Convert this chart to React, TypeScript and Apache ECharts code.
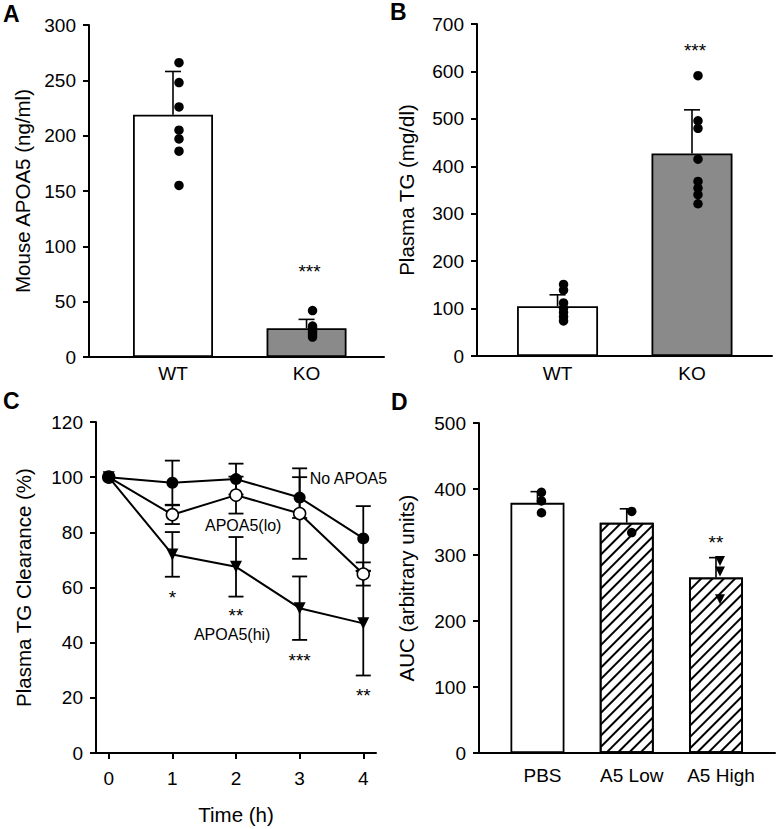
import React, { useEffect, useRef } from "react";
import * as echarts from "echarts";

const FONT = "Liberation Sans, Arial, Helvetica, sans-serif";

// Panel A: Mouse APOA5 (ng/ml)
const abCategories = ["WT", "KO"];
const aMeans = [219, 26];
const aErr = [39, 8];
const aWTDots = [266, 248, 226, 205, 197, 186, 155];
const aKODots = [42, 28, 26, 24, 22, 20, 18];

// Panel B: Plasma TG (mg/dl)
const bMeans = [105, 427];
const bErr = [24, 92];
const bWTDots = [151, 139, 112, 101, 92, 83, 74];
const bKODots = [591, 496, 480, 415, 368, 354, 340, 321];

// Panel C: Plasma TG clearance (%)
const hours = [0, 1, 2, 3, 4];
const noApoa5 = [100, 98, 99.3, 92.6, 77.8];
const noApoa5Err = [0, 8, 5.6, 7.4, 11.7];
const apoa5Lo = [100, 86.4, 93.5, 86.8, 64.9];
const apoa5LoErr = [0, 3.4, 6.7, 16.4, 4.2];
const apoa5Hi = [100, 72, 67.5, 52.5, 47];
const apoa5HiErr = [0, 8.1, 10.8, 11.5, 18.9];
const cSignif = ["*", "**", "***", "**"];
const cSignifY = [56.5, 50, 33.4, 20.7];

// Panel D: AUC
const dCategories = ["PBS", "A5 Low", "A5 High"];
const dMeans = [379, 349, 266];
const dErr = [17, 21, 30];
const dPBSDots = [395, 382, 364];
const dLowDots = [366, 334];
const dHighPoints = [291, 275, 233];

const BLACK = "#000";

function yAxis(gridIndex: number, max: number, interval: number, name: string, nameGap: number) {
  return {
    type: "value",
    gridIndex,
    min: 0,
    max,
    interval,
    name,
    nameLocation: "middle",
    nameGap,
    nameRotate: 90,
    nameTextStyle: { fontSize: 20.5, color: BLACK, fontFamily: FONT },
    axisLine: { show: true, onZero: false, lineStyle: { color: BLACK, width: 2 } },
    axisTick: { show: true, length: 6, lineStyle: { color: BLACK, width: 2 } },
    axisLabel: { fontSize: 19, color: BLACK, margin: 13, fontFamily: FONT },
    splitLine: { show: false },
  };
}

function xCatAxis(gridIndex: number, min: number, max: number, labels: string[], margin: number, padLeft = 0) {
  return {
    type: "value",
    gridIndex,
    min,
    max,
    axisLine: { show: true, onZero: false, lineStyle: { color: BLACK, width: 2 } },
    axisTick: { show: false },
    axisLabel: {
      fontSize: 19,
      color: BLACK,
      margin,
      fontFamily: FONT,
      padding: [0, 0, 0, padLeft],
      customValues: labels.map((_, i) => i + 1),
      formatter: (v: number) => labels[Math.round(v) - 1] ?? "",
    },
    splitLine: { show: false },
  };
}

function errUp(cap: number) {
  return (params: any, api: any) => {
    const x = api.value(0);
    const m = api.value(1);
    const e = api.value(2);
    const p0 = api.coord([x, m]);
    const p1 = api.coord([x, m + e]);
    const st = { stroke: BLACK, lineWidth: 1.6 };
    return {
      type: "group",
      children: [
        { type: "line", shape: { x1: p0[0], y1: p0[1], x2: p1[0], y2: p1[1] }, style: st },
        { type: "line", shape: { x1: p1[0] - cap, y1: p1[1], x2: p1[0] + cap, y2: p1[1] }, style: st },
      ],
    };
  };
}

function errBoth(cap: number) {
  return (params: any, api: any) => {
    const x = api.value(0);
    const m = api.value(1);
    const e = api.value(2);
    if (!e) return { type: "group", children: [] };
    const pt = api.coord([x, m + e]);
    const pb = api.coord([x, m - e]);
    const st = { stroke: BLACK, lineWidth: 1.8 };
    return {
      type: "group",
      children: [
        { type: "line", shape: { x1: pt[0], y1: pt[1], x2: pb[0], y2: pb[1] }, style: st },
        { type: "line", shape: { x1: pt[0] - cap, y1: pt[1], x2: pt[0] + cap, y2: pt[1] }, style: st },
        { type: "line", shape: { x1: pb[0] - cap, y1: pb[1], x2: pb[0] + cap, y2: pb[1] }, style: st },
      ],
    };
  };
}

function dots(xi: number, pos: number, values: number[], symbol = "circle", size = 9.5, offset = 6, rotate = 0) {
  return {
    type: "scatter",
    xAxisIndex: xi,
    yAxisIndex: xi,
    symbol,
    symbolSize: size,
    symbolRotate: rotate,
    symbolOffset: [offset, 0],
    itemStyle: { color: BLACK, opacity: 1 },
    data: values.map((v) => [pos, v]),
    z: 4,
    silent: true,
  };
}

function annot(xi: number, data: any[], fontSize: number, extra: any = {}) {
  return {
    type: "scatter",
    xAxisIndex: xi,
    yAxisIndex: xi,
    symbolSize: 0,
    silent: true,
    data,
    itemStyle: { opacity: 1, color: BLACK },
    label: {
      show: true,
      position: "inside",
      formatter: (p: any) => p.value[2],
      color: BLACK,
      opacity: 1,
      fontSize,
      fontFamily: FONT,
      ...extra,
    },
    z: 6,
  };
}

function lineSeries(values: number[], symbol: string, fill: string, rotate = 0) {
  return {
    type: "line",
    xAxisIndex: 2,
    yAxisIndex: 2,
    data: values.map((v, i) => [hours[i], v]),
    symbol,
    symbolSize: 12,
    symbolRotate: rotate,
    showSymbol: true,
    lineStyle: { color: BLACK, width: 2 },
    itemStyle: { color: fill, borderColor: BLACK, borderWidth: fill === BLACK ? 0 : 1.5, opacity: 1 },
    z: 4,
    silent: true,
  };
}

const hatch = {
  symbol: "rect",
  symbolSize: 1,
  color: BLACK,
  dashArrayX: [1, 0],
  dashArrayY: [1.4, 5.2],
  rotation: -Math.PI / 4,
};

const letterStyle = (text: string) => ({ text, fontSize: 23, fontWeight: "bold", fontFamily: FONT, fill: BLACK });

export default function App() {
  const ref = useRef<HTMLDivElement>(null);
  useEffect(() => {
    if (!ref.current) return;
    const chart = echarts.init(ref.current, null, { renderer: "svg" });
    const option: any = {
      animation: false,
      backgroundColor: "#fff",
      textStyle: { fontFamily: FONT },
      grid: [
        { left: 89, top: 25, width: 295, height: 332 },
        { left: 477, top: 24, width: 295, height: 332 },
        { left: 96, top: 422, width: 280, height: 331 },
        { left: 479, top: 423, width: 296, height: 330 },
      ],
      xAxis: [
        xCatAxis(0, 0.371, 2.58, abCategories, 7),
        xCatAxis(1, 0.401, 2.595, abCategories, 8),
        {
          type: "value",
          gridIndex: 2,
          min: -0.2,
          max: 4.2,
          name: "Time (h)",
          nameLocation: "middle",
          nameGap: 51,
          nameTextStyle: { fontSize: 20.5, color: BLACK, fontFamily: FONT },
          axisLine: { show: true, onZero: false, lineStyle: { color: BLACK, width: 2 } },
          axisTick: { show: true, length: 6, customValues: hours, lineStyle: { color: BLACK, width: 2 } },
          axisLabel: { fontSize: 19, color: BLACK, margin: 16, fontFamily: FONT, customValues: hours },
          splitLine: { show: false },
        },
        xCatAxis(3, 0.345, 3.661, dCategories, 13, 10),
      ],
      yAxis: [
        yAxis(0, 300, 50, "Mouse APOA5 (ng/ml)", 56),
        yAxis(1, 700, 100, "Plasma TG (mg/dl)", 60),
        yAxis(2, 120, 20, "Plasma TG Clearance (%)", 62),
        yAxis(3, 500, 100, "AUC (arbitrary units)", 62),
      ],
      graphic: [
        { type: "text", x: 3, y: 2, style: letterStyle("A") },
        { type: "text", x: 390, y: 0, style: letterStyle("B") },
        { type: "text", x: 3, y: 389, style: letterStyle("C") },
        { type: "text", x: 391, y: 390, style: letterStyle("D") },
      ],
      series: [
        // Panel A
        {
          type: "bar",
          xAxisIndex: 0,
          yAxisIndex: 0,
          barWidth: 80,
          itemStyle: { borderColor: BLACK, borderWidth: 1.8 },
          data: aMeans.map((v, i) => ({ value: [i + 1, v], itemStyle: { color: i === 0 ? "#fff" : "#8a8a8a" } })),
          z: 2,
          silent: true,
        },
        { type: "custom", xAxisIndex: 0, yAxisIndex: 0, renderItem: errUp(8), data: aMeans.map((v, i) => [i + 1, v, aErr[i]]), z: 3, silent: true },
        dots(0, 1, aWTDots),
        dots(0, 2, aKODots),
        annot(0, [[2, 77.7, "***"]], 19, { offset: [3, 0] }),
        // Panel B
        {
          type: "bar",
          xAxisIndex: 1,
          yAxisIndex: 1,
          barWidth: 81,
          itemStyle: { borderColor: BLACK, borderWidth: 1.8 },
          data: bMeans.map((v, i) => ({ value: [i + 1, v], itemStyle: { color: i === 0 ? "#fff" : "#8a8a8a" } })),
          z: 2,
          silent: true,
        },
        { type: "custom", xAxisIndex: 1, yAxisIndex: 1, renderItem: errUp(8), data: bMeans.map((v, i) => [i + 1, v, bErr[i]]), z: 3, silent: true },
        dots(1, 1, bWTDots),
        dots(1, 2, bKODots),
        annot(1, [[2, 644, "***"]], 19, { offset: [3, 0] }),
        // Panel C
        { type: "custom", xAxisIndex: 2, yAxisIndex: 2, renderItem: errBoth(7.5), data: hours.map((h, i) => [h, apoa5Hi[i], apoa5HiErr[i]]), z: 3, silent: true },
        { type: "custom", xAxisIndex: 2, yAxisIndex: 2, renderItem: errBoth(7.5), data: hours.map((h, i) => [h, apoa5Lo[i], apoa5LoErr[i]]), z: 3, silent: true },
        { type: "custom", xAxisIndex: 2, yAxisIndex: 2, renderItem: errBoth(7.5), data: hours.map((h, i) => [h, noApoa5[i], noApoa5Err[i]]), z: 3, silent: true },
        lineSeries(apoa5Hi, "triangle", BLACK, 180),
        lineSeries(apoa5Lo, "circle", "#fff"),
        lineSeries(noApoa5, "circle", BLACK),
        annot(2, hours.slice(1).map((h, i) => [h, cSignifY[i], cSignif[i]]), 19),
        annot(2, [[3.16, 99.6, "No APOA5"]], 16, { position: "right", distance: 0 }),
        annot(2, [[2.113, 82.6, "APOA5(lo)"]], 16),
        annot(2, [[1.94, 42.8, "APOA5(hi)"]], 16),
        // Panel D
        {
          type: "bar",
          xAxisIndex: 3,
          yAxisIndex: 3,
          barWidth: 54,
          itemStyle: { borderColor: BLACK, borderWidth: 1.8, color: "#fff" },
          data: dMeans.map((v, i) => ({ value: [i + 1, v], itemStyle: i === 0 ? { color: "#fff" } : { color: "#fff", decal: hatch } })),
          z: 2,
          silent: true,
        },
        { type: "custom", xAxisIndex: 3, yAxisIndex: 3, renderItem: errUp(7), data: dMeans.map((v, i) => [i + 1, v, dErr[i]]), z: 3, silent: true },
        dots(3, 1, dPBSDots, "circle", 9.5, 4),
        dots(3, 2, dLowDots, "circle", 9.5, 5),
        dots(3, 3, dHighPoints, "triangle", 10, 4, 180),
        annot(3, [[3, 319, "**"]], 19),
      ],
    };
    chart.setOption(option);
    return () => chart.dispose();
  }, []);
  return <div ref={ref} style={{ position: "absolute", left: 0, top: 0, width: 777, height: 829, background: "#fff" }} />;
}
